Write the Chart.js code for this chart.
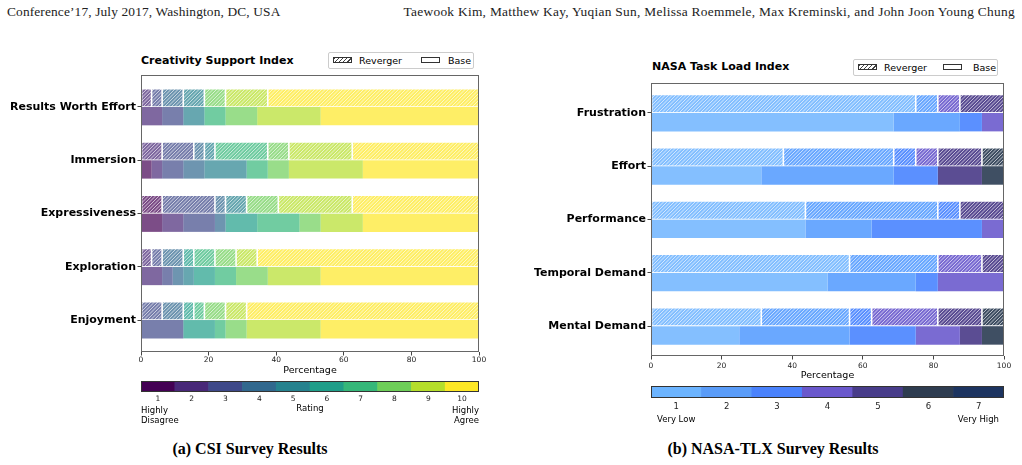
<!DOCTYPE html>
<html>
<head>
<meta charset="utf-8">
<script src="https://cdn.jsdelivr.net/npm/chart.js@4.4.1/dist/chart.umd.min.js"></script>
<style>
  body { margin: 0; width: 1022px; height: 465px; background: #fff; position: relative; overflow: hidden; font-family: 'DejaVu Sans', sans-serif; color: #000; }
  .abs { position: absolute; white-space: nowrap; }
  .hdr { font-family: 'Liberation Serif', serif; font-size: 13.4px; color: #222; top: 4px; }
  .cap { font-family: 'Liberation Serif', serif; font-weight: bold; font-size: 16px; top: 440px; transform: translateX(-50%); }
  .title { font-weight: bold; font-size: 11px; }
  .legend { border: 1px solid #ccc; border-radius: 2px; height: 17px; box-sizing: border-box; font-size: 9.5px; }
  .legend span { position: absolute; top: 2px; }
  .legend i { position: absolute; top: 4px; width: 19px; height: 6px; border: 1px solid #333; box-sizing: border-box; }
  .legend i.h { background: repeating-linear-gradient(135deg, #444 0 0.8px, #fff 0.8px 3px); }
  .small { font-size: 8.5px; line-height: 9.5px; }
</style>
</head>
<body>
<div class="abs hdr" style="left:7px; letter-spacing:0.13px">Conference’17, July 2017, Washington, DC, USA</div>
<div class="abs hdr" style="right:7px; letter-spacing:0.28px">Taewook Kim, Matthew Kay, Yuqian Sun, Melissa Roemmele, Max Kreminski, and John Joon Young Chung</div>

<div class="abs title" style="left:141px; top:54px">Creativity Support Index</div>
<div class="abs legend" style="left:328px; top:52px; width:146px">
  <i class="h" style="left:4px"></i><span style="left:30px">Reverger</span>
  <i style="left:92px"></i><span style="left:119px">Base</span>
</div>
<div class="abs title" style="left:652px; top:60px">NASA Task Load Index</div>
<div class="abs legend" style="left:853px; top:59px; width:145px">
  <i class="h" style="left:4px"></i><span style="left:30px">Reverger</span>
  <i style="left:89px"></i><span style="left:119px">Base</span>
</div>

<div class="abs" style="left:0; top:40px; width:490px; height:340px"><canvas id="csi"></canvas></div>
<div class="abs" style="left:500px; top:40px; width:522px; height:344px"><canvas id="tlx"></canvas></div>
<div class="abs" style="left:141px; top:381px; width:338px; height:33px"><canvas id="csiBar"></canvas></div>
<div class="abs" style="left:651px; top:386px; width:353px; height:26px"><canvas id="tlxBar"></canvas></div>

<div class="abs small" style="left:141px; top:406px">Highly<br>Disagree</div>
<div class="abs small" style="right:543px; top:406px; text-align:right">Highly<br>Agree</div>
<div class="abs small" style="left:657px; top:415px">Very Low</div>
<div class="abs small" style="right:23px; top:415px">Very High</div>

<div class="abs cap" style="left:250px">(a) CSI Survey Results</div>
<div class="abs cap" style="left:773px">(b) NASA-TLX Survey Results</div>

<script>
// ---- data (percent of responses per rating) ----
const csiCategories = ['Results Worth Effort', 'Immersion', 'Expressiveness', 'Exploration', 'Enjoyment'];
const csiRatings = ['1', '2', '3', '4', '5', '6', '7', '8', '9', '10'];
const csiReverger = [
  [0, 3.125, 3.125, 6.25, 6.25, 0, 0, 6.25, 12.5, 62.5],
  [0, 6.25, 9.375, 3.125, 3.125, 0, 15.625, 6.25, 18.75, 37.5],
  [6.25, 0, 15.625, 3.125, 6.25, 0, 0, 9.375, 21.875, 37.5],
  [0, 3.125, 3.125, 6.25, 0, 3.125, 6.25, 6.25, 6.25, 65.625],
  [0, 0, 6.25, 6.25, 0, 3.125, 3.125, 6.25, 6.25, 68.75]
];
const csiBase = [
  [0, 6.25, 6.25, 0, 6.25, 0, 6.25, 9.375, 18.75, 46.875],
  [3.125, 3.125, 6.25, 6.25, 12.5, 0, 6.25, 6.25, 21.875, 34.375],
  [6.25, 6.25, 9.375, 3.125, 0, 9.375, 12.5, 6.25, 12.5, 34.375],
  [0, 6.25, 3.125, 3.125, 3.125, 6.25, 6.25, 9.375, 15.625, 46.875],
  [0, 0, 12.5, 0, 0, 9.375, 3.125, 6.25, 21.875, 46.875]
];

const tlxCategories = ['Frustration', 'Effort', 'Performance', 'Temporal Demand', 'Mental Demand'];
const tlxRatings = ['1', '2', '3', '4', '5', '6', '7'];
const tlxReverger = [
  [75, 6.25, 0, 6.25, 12.5, 0, 0],
  [37.5, 31.25, 6.25, 6.25, 12.5, 6.25, 0],
  [43.75, 37.5, 6.25, 0, 12.5, 0, 0],
  [56.25, 25, 0, 12.5, 6.25, 0, 0],
  [31.25, 25, 6.25, 18.75, 12.5, 6.25, 0]
];
const tlxBase = [
  [68.75, 18.75, 6.25, 6.25, 0, 0, 0],
  [31.25, 37.5, 12.5, 0, 12.5, 6.25, 0],
  [43.75, 18.75, 31.25, 6.25, 0, 0, 0],
  [50, 25, 6.25, 18.75, 0, 0, 0],
  [25, 31.25, 18.75, 12.5, 6.25, 6.25, 0]
];
const xTicks = [0, 20, 40, 60, 80, 100];

// ---- colours ----
const viridis = ['#440154', '#482878', '#3e4989', '#31688e', '#26828e', '#1f9e89', '#35b779', '#6ece58', '#b5de2b', '#fde725'];
const tlxScale = ['#6cb4ff', '#5a9cf8', '#4a82fc', '#6a58cc', '#483c8a', '#2e3c50', '#1c3460'];
const tlxBarColors = ['#84bfff', '#6aa8ff', '#5b90ff', '#7a6bd2', '#5b4d93', '#3f4f63', '#34466a'];

function withAlpha(hex, a) {
  const n = parseInt(hex.slice(1), 16);
  return 'rgba(' + (n >> 16) + ',' + ((n >> 8) & 255) + ',' + (n & 255) + ',' + a + ')';
}

function hatch(color) {
  const s = 7;
  const c = document.createElement('canvas');
  c.width = s; c.height = s;
  const g = c.getContext('2d');
  g.fillStyle = color;
  g.fillRect(0, 0, s, s);
  g.strokeStyle = 'rgba(255,255,255,0.7)';
  g.lineWidth = 0.9;
  g.beginPath();
  for (let k = -s; k <= s; k += s / 2) {
    g.moveTo(k, s);
    g.lineTo(k + s, 0);
  }
  g.stroke();
  return g.createPattern(c, 'repeat');
}

Chart.defaults.font.family = 'DejaVu Sans';
Chart.defaults.color = '#000';

const framePlugin = {
  id: 'frame',
  afterDatasetsDraw(chart, args, opts) {
    const a = chart.chartArea, ctx = chart.ctx;
    ctx.save();
    ctx.strokeStyle = opts.color || '#666';
    ctx.lineWidth = 1;
    ctx.strokeRect(Math.round(a.left) + 0.5, Math.round(a.top) + 0.5, Math.round(a.right - a.left) - 1, Math.round(a.bottom - a.top) - 1);
    ctx.restore();
  }
};

function makeStackChart(id, o) {
  const datasets = [];
  const groups = [
    { name: 'Reverger', values: o.reverger, hatched: true },
    { name: 'Base', values: o.base, hatched: false }
  ];
  groups.forEach(g => {
    o.ratings.forEach((r, j) => {
      datasets.push({
        label: g.name + ' ' + r,
        stack: g.name,
        data: o.categories.map((c, i) => ({ y: i, x: g.values[i][j] })),
        backgroundColor: g.hatched ? hatch(o.colors[j]) : o.colors[j],
        borderColor: '#fff',
        borderWidth: g.hatched ? 0.8 : 0,
        borderSkipped: false,
        categoryPercentage: o.catPct,
        barPercentage: 1
      });
    });
  });

  return new Chart(document.getElementById(id), {
    type: 'bar',
    data: { datasets },
    plugins: [framePlugin],
    options: {
      indexAxis: 'y',
      responsive: true,
      maintainAspectRatio: false,
      animation: false,
      events: [],
      layout: { padding: o.padding },
      plugins: { legend: { display: false }, tooltip: { enabled: false }, frame: { color: '#666' } },
      scales: {
        x: {
          type: 'linear', stacked: true, min: 0, max: 100,
          afterBuildTicks: s => { s.ticks = xTicks.map(v => ({ value: v })); },
          afterFit: s => { s.height = 28; s.paddingLeft = 0; s.paddingRight = 0; },
          ticks: { font: { size: 7.5 }, color: '#222', padding: o.xPad, maxRotation: 0 },
          grid: { drawOnChartArea: false, drawTicks: true, tickLength: 3.5, color: '#444' },
          border: { display: false },
          title: { display: true, text: 'Percentage', font: { size: 9.5 }, padding: { top: 0, bottom: o.titlePad } }
        },
        y: {
          type: 'linear', reverse: true, offset: false, min: o.yMin, max: 4 - o.yMin,
          afterBuildTicks: s => { s.ticks = o.categories.map((c, i) => ({ value: i })); },
          afterFit: s => { s.width = o.yWidth; },
          ticks: { callback: v => o.categories[v], font: { size: 11, weight: 'bold' }, color: '#000', padding: 1.5 },
          grid: { offset: false, drawOnChartArea: false, drawTicks: true, tickLength: 3.5, color: '#444' },
          border: { display: false }
        }
      }
    }
  });
}

function makeColorbar(id, labels, colors, o) {
  return new Chart(document.getElementById(id), {
    type: 'bar',
    data: {
      labels: labels,
      datasets: [{
        data: labels.map(() => 1),
        backgroundColor: colors,
        categoryPercentage: 1,
        barPercentage: 1,
        borderWidth: 0
      }]
    },
    plugins: [framePlugin],
    options: {
      responsive: true,
      maintainAspectRatio: false,
      animation: false,
      events: [],
      plugins: { legend: { display: false }, tooltip: { enabled: false }, frame: { color: '#333' } },
      scales: {
        x: {
          afterFit: s => { s.height = o.axisHeight; s.paddingLeft = 0; s.paddingRight = 0; },
          ticks: { font: { size: o.fontSize }, color: '#222', padding: o.pad, maxRotation: 0 },
          grid: { display: false, drawTicks: false },
          border: { display: false },
          title: { display: !!o.title, text: o.title, font: { size: 8.5 }, padding: { top: 0, bottom: 0 } }
        },
        y: { display: false, min: 0, max: 1 }
      }
    }
  });
}

makeStackChart('csi', {
  categories: csiCategories, ratings: csiRatings,
  reverger: csiReverger, base: csiBase,
  colors: viridis.map(c => withAlpha(c, 0.7)),
  catPct: 0.69, yMin: -0.6, yWidth: 141,
  padding: { top: 35, right: 11, left: 0, bottom: 0 },
  xPad: 0, titlePad: 4
});

makeStackChart('tlx', {
  categories: tlxCategories, ratings: tlxRatings,
  reverger: tlxReverger, base: tlxBase,
  colors: tlxBarColors,
  catPct: 0.695, yMin: -0.56, yWidth: 151,
  padding: { top: 43, right: 18, left: 0, bottom: 0 },
  xPad: 2.5, titlePad: 3
});

makeColorbar('csiBar', csiRatings, viridis, { axisHeight: 22, fontSize: 7.5, pad: 3, title: 'Rating' });
makeColorbar('tlxBar', tlxRatings, tlxScale, { axisHeight: 14, fontSize: 8.5, pad: 4 });
</script>
</body>
</html>
